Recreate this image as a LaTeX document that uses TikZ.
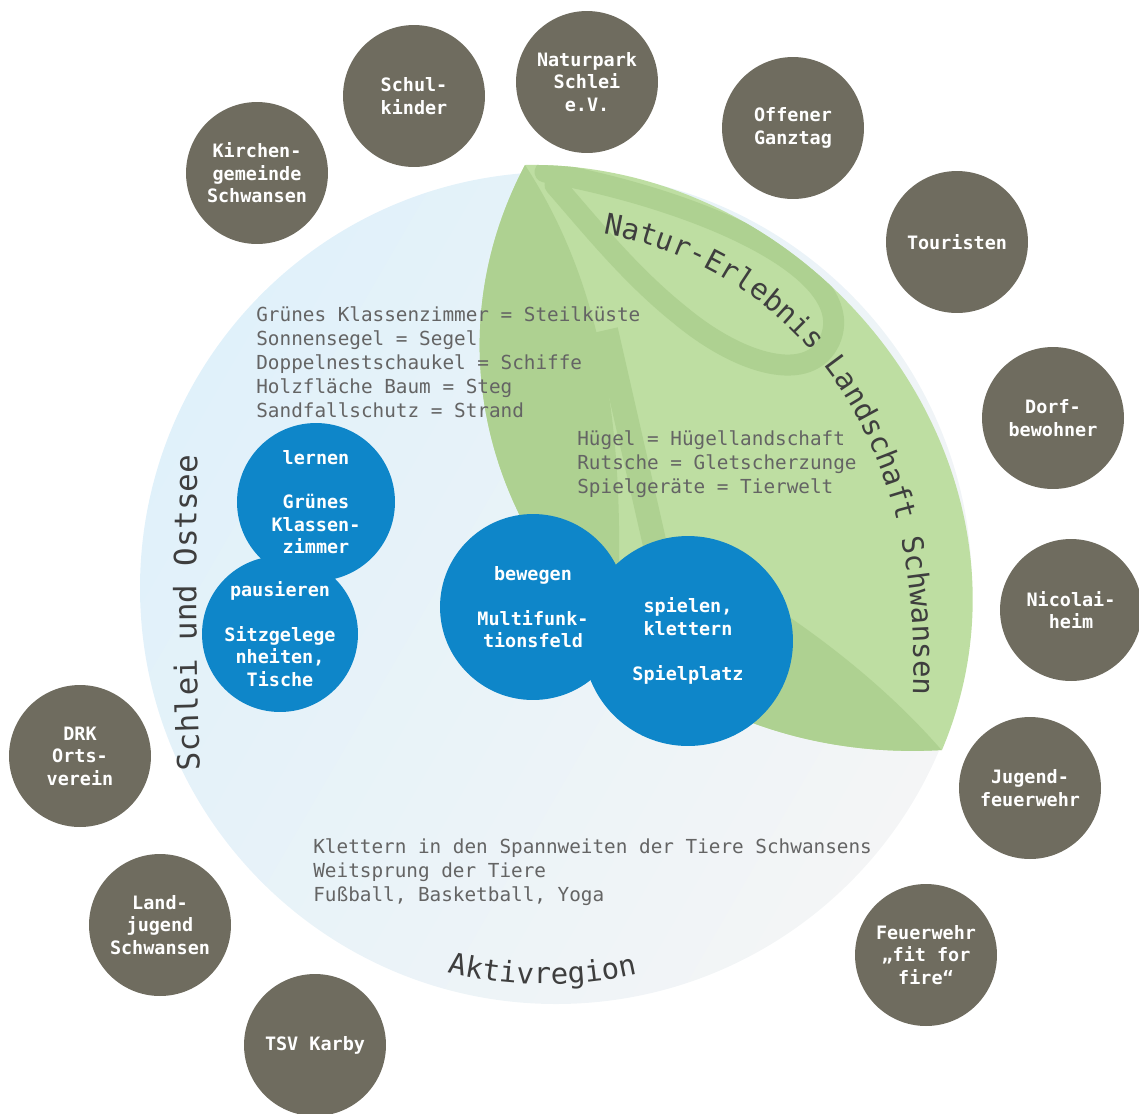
\documentclass[tikz,border=0pt]{standalone}
\usepackage{fontspec}
\setmonofont{DejaVu Sans Mono}
\usetikzlibrary{decorations.text}
\definecolor{partnergray}{HTML}{6F6C5F}
\definecolor{placeblue}{HTML}{0E86C9}
\definecolor{leafgreen}{HTML}{BEDEA2}
\definecolor{leafdark}{HTML}{AED191}
\definecolor{palecyan}{HTML}{E0F1FA}
\definecolor{palegray}{HTML}{F4F5F6}
\definecolor{inkgray}{HTML}{646464}
\definecolor{titlegray}{HTML}{3E3E3E}
\newcommand{\labelfont}{\ttfamily\bfseries\fontsize{10.5}{12.75}\selectfont}
\newcommand{\titlefont}{\ttfamily\fontsize{16.5}{20}\selectfont}
\newcommand{\sidefont}{\ttfamily\fontsize{17.5}{20}\selectfont}
\newcommand{\leafpath}{(525,165) .. controls (820,160) and (1060,470) .. (942,750) .. controls (600,770) and (380,440) .. (525,165) -- cycle}
\tikzset{partner/.style={circle,fill=partnergray,text=white,inner sep=0pt,minimum size=2.84cm,align=center,font=\labelfont}}
\tikzset{place/.style={circle,fill=placeblue,text=white,inner sep=0pt,align=center,font=\labelfont}}
\tikzset{mapping/.style={anchor=west,inner sep=0pt,align=left,text=inkgray,font=\ttfamily\fontsize{11}{13.6}\selectfont}}
\tikzset{arctitle/.style={decorate,decoration={text along path,text color=titlegray,text={#1}}}}

\begin{document}
\begin{tikzpicture}[x=0.02cm,y=-0.02cm]
  \useasboundingbox (0,0) rectangle (1139,1113);
  \shade[top color=palecyan,bottom color=palegray,shading angle=60] (556,588) circle (416);

  \fill[leafgreen] \leafpath;
  \begin{scope}
    \clip \leafpath;
    \fill[leafdark] (525,165) .. controls (600,280) and (625,420) .. (618,600) -- (380,600) -- (380,165) -- cycle;
    \fill[leafdark] (740,585) .. controls (830,640) and (900,700) .. (950,760) -- (700,780) -- cycle;
    \draw[leafdark,line width=0.48cm] (606,330) -- (655,545);
    \draw[leafdark,line width=0.42cm,line cap=round] (545,172) .. controls (700,200) and (860,270) .. (830,340)
      .. controls (810,385) and (740,365) .. (680,315) .. controls (630,275) and (590,225) .. (555,185);
  \end{scope}

  \node[mapping] (kueste) at (256,362) {Grünes Klassenzimmer = Steilküste\\Sonnensegel = Segel\\Doppelnestschaukel = Schiffe\\Holzfläche Baum = Steg\\Sandfallschutz = Strand};
  \node[mapping] (huegel) at (577,464) {Hügel = Hügellandschaft\\Rutsche = Gletscherzunge\\Spielgeräte = Tierwelt};
  \node[mapping] (klettern) at (313,872) {Klettern in den Spannweiten der Tiere Schwansens\\Weitsprung der Tiere\\Fußball, Basketball, Yoga};

  \node[place,minimum size=4.2cm] (spielen) at (688,641) {spielen,\\klettern\\[\baselineskip]Spielplatz};
  \node[place,minimum size=3.72cm] (bewegen) at (533,607) {bewegen\\[\baselineskip]Multifunk-\\tionsfeld};
  \node[place,minimum size=3.16cm] (lernen) at (316,502) {lernen\\[\baselineskip]Grünes\\Klassen-\\zimmer};
  \node[place,minimum size=3.12cm] (pausieren) at (280,634) {pausieren\\[\baselineskip]Sitzgelege\\nheiten,\\Tische};

  \path[arctitle={|\titlefont|Natur-Erlebnis Landschaft Schwansen}] (603,234) .. controls (780,265) and (930,420) .. (912,712) -- (910,780);
  \path[arctitle={|\sidefont|Schlei und Ostsee}] (200,770) .. controls (196,670) and (195,560) .. (198,420);
  \path[arctitle={|\titlefont|Aktivregion}] (545,568) ++(103.6:416) arc[start angle=103.6,end angle=70,radius=416];

  \node[partner] (kirche) at (257,173) {Kirchen-\\gemeinde\\Schwansen};
  \node[partner] (schule) at (414,96) {Schul-\\kinder};
  \node[partner] (naturpark) at (587,82) {Naturpark\\Schlei\\e.V.};
  \node[partner] (ganztag) at (793,128) {Offener\\Ganztag};
  \node[partner] (touristen) at (957,242) {Touristen};
  \node[partner] (dorf) at (1053,418) {Dorf-\\bewohner};
  \node[partner] (nicolai) at (1071,610) {Nicolai-\\heim};
  \node[partner] (jugend) at (1030,788) {Jugend-\\feuerwehr};
  \node[partner] (feuerwehr) at (926,955) {Feuerwehr\\„fit for\\fire“};
  \node[partner] (drk) at (80,756) {DRK\\Orts-\\verein};
  \node[partner] (landjugend) at (160,925) {Land-\\jugend\\Schwansen};
  \node[partner] (tsv) at (315,1045) {TSV Karby};
\end{tikzpicture}
\end{document}
